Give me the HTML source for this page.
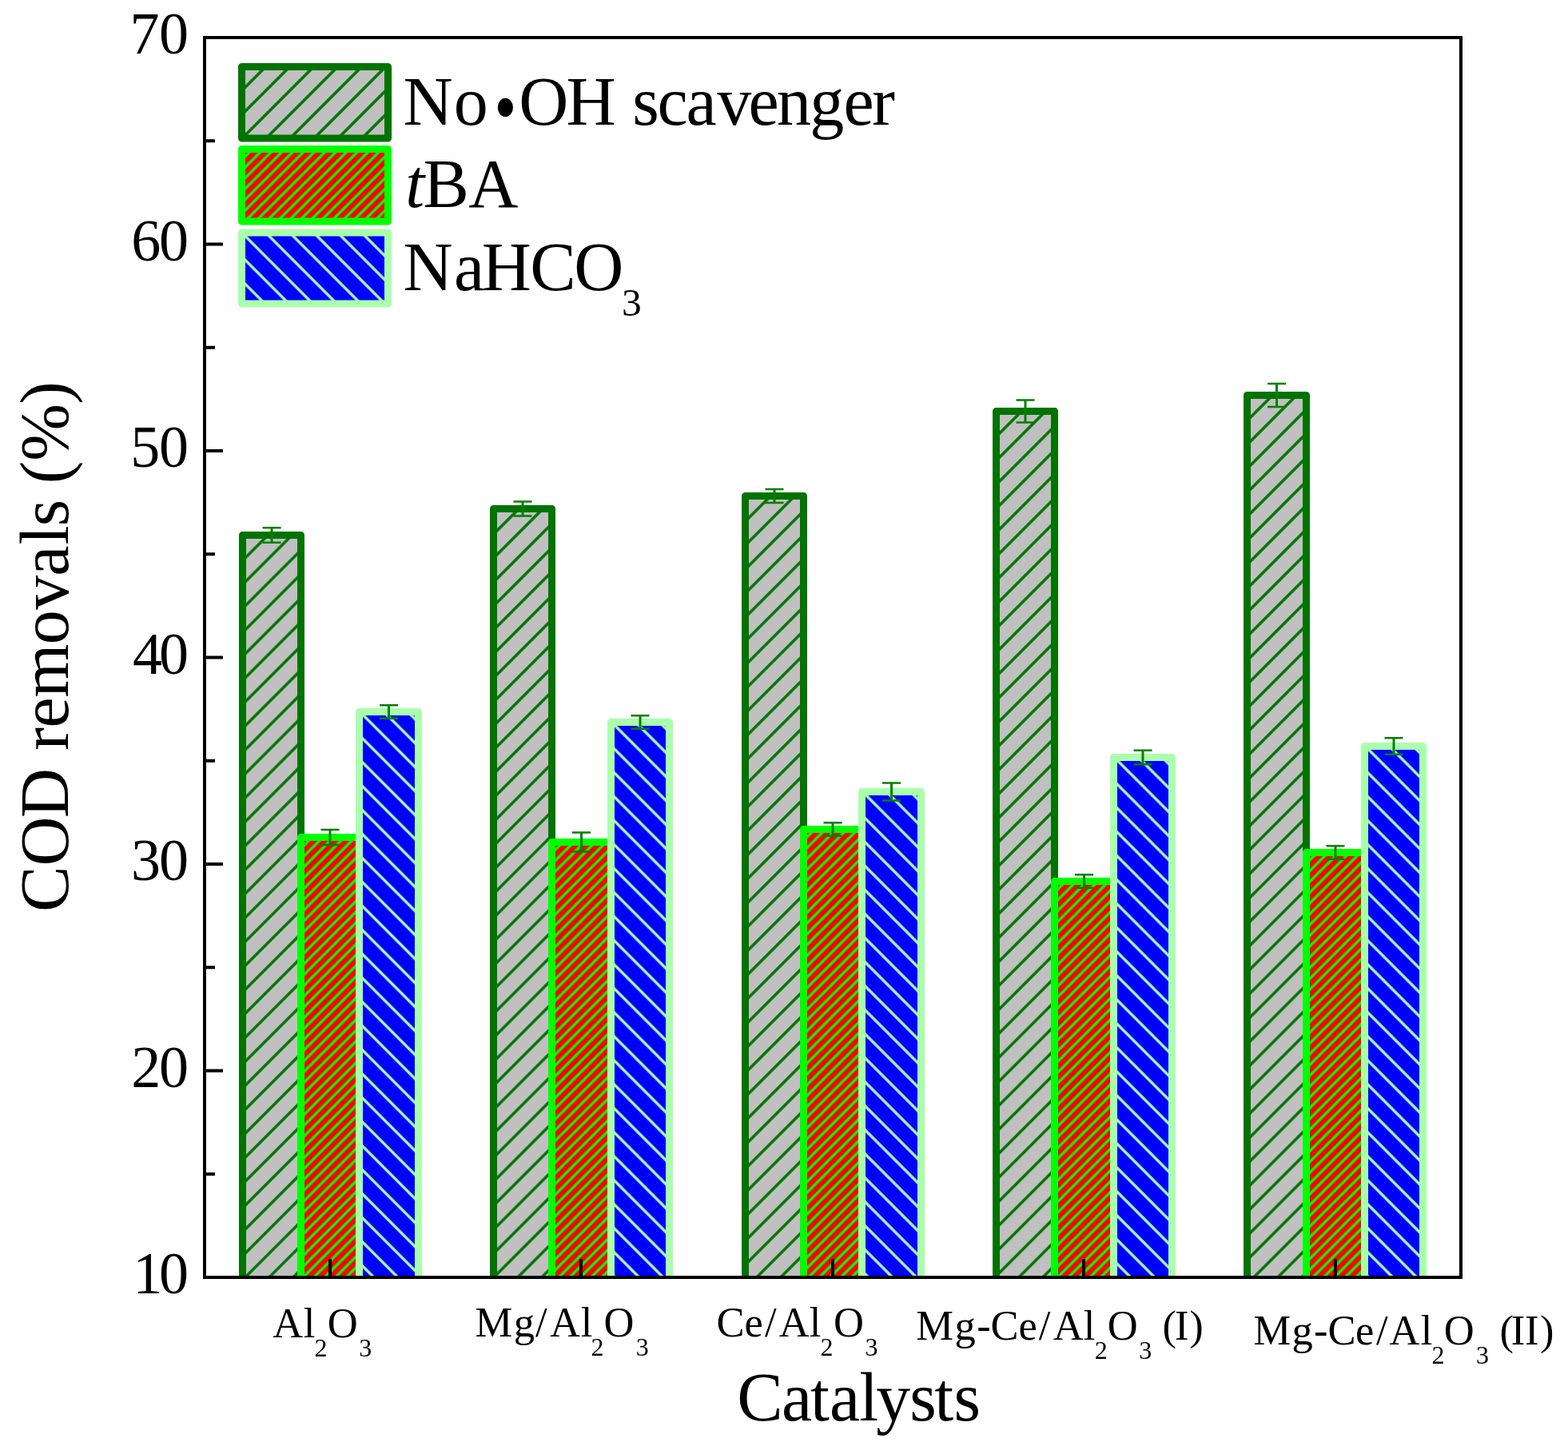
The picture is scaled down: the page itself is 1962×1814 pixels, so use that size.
<!DOCTYPE html><html><head><meta charset="utf-8"><title>COD removals</title><style>html,body{margin:0;padding:0;background:#fff;overflow:hidden;}svg{display:block;}text{font-family:"Liberation Serif","Times New Roman",serif;fill:#000;}</style></head><body>
<svg width="1962" height="1814" viewBox="0 0 1962 1814">
<defs><clipPath id="clip"><rect x="256" y="47" width="1572" height="1551"/></clipPath></defs>
<rect width="1962" height="1814" fill="#fff"/>
<defs><pattern id="p00" patternUnits="userSpaceOnUse" width="21.2132" height="21.2132" patternTransform="translate(305.30,669.50) rotate(45)"><rect width="21.2132" height="21.2132" fill="#C0C0C0"/><rect x="-1.750" width="3.5" height="21.2132" fill="#007300"/><rect x="19.4632" width="3.5" height="21.2132" fill="#007300"/></pattern><pattern id="p01" patternUnits="userSpaceOnUse" width="9.5318" height="9.5318" patternTransform="translate(377.00,1047.50) rotate(45)"><rect width="9.5318" height="9.5318" fill="#FF0000"/><rect x="-1.650" width="3.3" height="9.5318" fill="#00FF00"/><rect x="7.8818" width="3.3" height="9.5318" fill="#00FF00"/></pattern><pattern id="p02" patternUnits="userSpaceOnUse" width="21.2132" height="21.2132" patternTransform="translate(450.30,890.50) rotate(-45)"><rect width="21.2132" height="21.2132" fill="#0000FF"/><rect x="-1.675" width="3.35" height="21.2132" fill="#AAFFAA"/><rect x="19.5382" width="3.35" height="21.2132" fill="#AAFFAA"/></pattern><pattern id="p10" patternUnits="userSpaceOnUse" width="21.2132" height="21.2132" patternTransform="translate(619.30,636.50) rotate(45)"><rect width="21.2132" height="21.2132" fill="#C0C0C0"/><rect x="-1.750" width="3.5" height="21.2132" fill="#007300"/><rect x="19.4632" width="3.5" height="21.2132" fill="#007300"/></pattern><pattern id="p11" patternUnits="userSpaceOnUse" width="9.5318" height="9.5318" patternTransform="translate(691.00,1053.50) rotate(45)"><rect width="9.5318" height="9.5318" fill="#FF0000"/><rect x="-1.650" width="3.3" height="9.5318" fill="#00FF00"/><rect x="7.8818" width="3.3" height="9.5318" fill="#00FF00"/></pattern><pattern id="p12" patternUnits="userSpaceOnUse" width="21.2132" height="21.2132" patternTransform="translate(765.30,903.50) rotate(-45)"><rect width="21.2132" height="21.2132" fill="#0000FF"/><rect x="-1.675" width="3.35" height="21.2132" fill="#AAFFAA"/><rect x="19.5382" width="3.35" height="21.2132" fill="#AAFFAA"/></pattern><pattern id="p20" patternUnits="userSpaceOnUse" width="21.2132" height="21.2132" patternTransform="translate(934.30,620.50) rotate(45)"><rect width="21.2132" height="21.2132" fill="#C0C0C0"/><rect x="-1.750" width="3.5" height="21.2132" fill="#007300"/><rect x="19.4632" width="3.5" height="21.2132" fill="#007300"/></pattern><pattern id="p21" patternUnits="userSpaceOnUse" width="9.5318" height="9.5318" patternTransform="translate(1006.00,1037.50) rotate(45)"><rect width="9.5318" height="9.5318" fill="#FF0000"/><rect x="-1.650" width="3.3" height="9.5318" fill="#00FF00"/><rect x="7.8818" width="3.3" height="9.5318" fill="#00FF00"/></pattern><pattern id="p22" patternUnits="userSpaceOnUse" width="21.2132" height="21.2132" patternTransform="translate(1079.30,990.50) rotate(-45)"><rect width="21.2132" height="21.2132" fill="#0000FF"/><rect x="-1.675" width="3.35" height="21.2132" fill="#AAFFAA"/><rect x="19.5382" width="3.35" height="21.2132" fill="#AAFFAA"/></pattern><pattern id="p30" patternUnits="userSpaceOnUse" width="21.2132" height="21.2132" patternTransform="translate(1248.30,514.50) rotate(45)"><rect width="21.2132" height="21.2132" fill="#C0C0C0"/><rect x="-1.750" width="3.5" height="21.2132" fill="#007300"/><rect x="19.4632" width="3.5" height="21.2132" fill="#007300"/></pattern><pattern id="p31" patternUnits="userSpaceOnUse" width="9.5318" height="9.5318" patternTransform="translate(1320.00,1102.50) rotate(45)"><rect width="9.5318" height="9.5318" fill="#FF0000"/><rect x="-1.650" width="3.3" height="9.5318" fill="#00FF00"/><rect x="7.8818" width="3.3" height="9.5318" fill="#00FF00"/></pattern><pattern id="p32" patternUnits="userSpaceOnUse" width="21.2132" height="21.2132" patternTransform="translate(1394.30,947.50) rotate(-45)"><rect width="21.2132" height="21.2132" fill="#0000FF"/><rect x="-1.675" width="3.35" height="21.2132" fill="#AAFFAA"/><rect x="19.5382" width="3.35" height="21.2132" fill="#AAFFAA"/></pattern><pattern id="p40" patternUnits="userSpaceOnUse" width="21.2132" height="21.2132" patternTransform="translate(1562.30,494.50) rotate(45)"><rect width="21.2132" height="21.2132" fill="#C0C0C0"/><rect x="-1.750" width="3.5" height="21.2132" fill="#007300"/><rect x="19.4632" width="3.5" height="21.2132" fill="#007300"/></pattern><pattern id="p41" patternUnits="userSpaceOnUse" width="9.5318" height="9.5318" patternTransform="translate(1635.00,1066.50) rotate(45)"><rect width="9.5318" height="9.5318" fill="#FF0000"/><rect x="-1.650" width="3.3" height="9.5318" fill="#00FF00"/><rect x="7.8818" width="3.3" height="9.5318" fill="#00FF00"/></pattern><pattern id="p42" patternUnits="userSpaceOnUse" width="21.2132" height="21.2132" patternTransform="translate(1708.30,933.50) rotate(-45)"><rect width="21.2132" height="21.2132" fill="#0000FF"/><rect x="-1.675" width="3.35" height="21.2132" fill="#AAFFAA"/><rect x="19.5382" width="3.35" height="21.2132" fill="#AAFFAA"/></pattern><pattern id="pl0" patternUnits="userSpaceOnUse" width="21.2132" height="21.2132" patternTransform="translate(302.50,83.50) rotate(45)"><rect width="21.2132" height="21.2132" fill="#C0C0C0"/><rect x="-1.750" width="3.5" height="21.2132" fill="#007300"/><rect x="19.4632" width="3.5" height="21.2132" fill="#007300"/></pattern><pattern id="pl1" patternUnits="userSpaceOnUse" width="9.5318" height="9.5318" patternTransform="translate(302.50,186.50) rotate(45)"><rect width="9.5318" height="9.5318" fill="#FF0000"/><rect x="-1.650" width="3.3" height="9.5318" fill="#00FF00"/><rect x="7.8818" width="3.3" height="9.5318" fill="#00FF00"/></pattern><pattern id="pl2" patternUnits="userSpaceOnUse" width="21.2132" height="21.2132" patternTransform="translate(302.50,291.00) rotate(-45)"><rect width="21.2132" height="21.2132" fill="#0000FF"/><rect x="-1.675" width="3.35" height="21.2132" fill="#AAFFAA"/><rect x="19.5382" width="3.35" height="21.2132" fill="#AAFFAA"/></pattern></defs>
<g clip-path="url(#clip)" stroke-width="9" stroke-linejoin="round">
<rect x="303.5" y="669.5" width="73.0" height="948.5" fill="url(#p00)" stroke="#007300"/>
<rect x="376.5" y="1047.5" width="73.0" height="570.5" fill="url(#p01)" stroke="#00FF00"/>
<rect x="449.5" y="890.5" width="74.0" height="727.5" fill="url(#p02)" stroke="#AAFFAA"/>
<rect x="617.5" y="636.5" width="73.0" height="981.5" fill="url(#p10)" stroke="#007300"/>
<rect x="690.5" y="1053.5" width="74.0" height="564.5" fill="url(#p11)" stroke="#00FF00"/>
<rect x="764.5" y="903.5" width="73.0" height="714.5" fill="url(#p12)" stroke="#AAFFAA"/>
<rect x="932.5" y="620.5" width="73.0" height="997.5" fill="url(#p20)" stroke="#007300"/>
<rect x="1005.5" y="1037.5" width="73.0" height="580.5" fill="url(#p21)" stroke="#00FF00"/>
<rect x="1078.5" y="990.5" width="74.0" height="627.5" fill="url(#p22)" stroke="#AAFFAA"/>
<rect x="1246.5" y="514.5" width="73.0" height="1103.5" fill="url(#p30)" stroke="#007300"/>
<rect x="1319.5" y="1102.5" width="74.0" height="515.5" fill="url(#p31)" stroke="#00FF00"/>
<rect x="1393.5" y="947.5" width="73.0" height="670.5" fill="url(#p32)" stroke="#AAFFAA"/>
<rect x="1560.5" y="494.5" width="74.0" height="1123.5" fill="url(#p40)" stroke="#007300"/>
<rect x="1634.5" y="1066.5" width="73.0" height="551.5" fill="url(#p41)" stroke="#00FF00"/>
<rect x="1707.5" y="933.5" width="73.0" height="684.5" fill="url(#p42)" stroke="#AAFFAA"/>
</g>
<g stroke="#008000" fill="none">
<path stroke-width="3" d="M340.00,660.20V678.80"/><path stroke-width="2.5" d="M328.50,660.20H351.50M328.50,678.80H351.50"/>
<path stroke-width="3" d="M413.00,1038.10V1056.90"/><path stroke-width="2.5" d="M401.50,1038.10H424.50M401.50,1056.90H424.50"/>
<path stroke-width="3" d="M486.50,882.25V898.75"/><path stroke-width="2.5" d="M475.00,882.25H498.00M475.00,898.75H498.00"/>
<path stroke-width="3" d="M654.00,627.50V645.50"/><path stroke-width="2.5" d="M642.50,627.50H665.50M642.50,645.50H665.50"/>
<path stroke-width="3" d="M727.50,1041.50V1065.50"/><path stroke-width="2.5" d="M716.00,1041.50H739.00M716.00,1065.50H739.00"/>
<path stroke-width="3" d="M801.00,895.15V911.85"/><path stroke-width="2.5" d="M789.50,895.15H812.50M789.50,911.85H812.50"/>
<path stroke-width="3" d="M969.00,612.10V628.90"/><path stroke-width="2.5" d="M957.50,612.10H980.50M957.50,628.90H980.50"/>
<path stroke-width="3" d="M1042.00,1029.30V1045.70"/><path stroke-width="2.5" d="M1030.50,1029.30H1053.50M1030.50,1045.70H1053.50"/>
<path stroke-width="3" d="M1115.50,979.50V1001.50"/><path stroke-width="2.5" d="M1104.00,979.50H1127.00M1104.00,1001.50H1127.00"/>
<path stroke-width="3" d="M1283.00,500.50V528.50"/><path stroke-width="2.5" d="M1271.50,500.50H1294.50M1271.50,528.50H1294.50"/>
<path stroke-width="3" d="M1356.50,1094.25V1110.75"/><path stroke-width="2.5" d="M1345.00,1094.25H1368.00M1345.00,1110.75H1368.00"/>
<path stroke-width="3" d="M1430.00,938.75V956.25"/><path stroke-width="2.5" d="M1418.50,938.75H1441.50M1418.50,956.25H1441.50"/>
<path stroke-width="3" d="M1597.50,480.00V509.00"/><path stroke-width="2.5" d="M1586.00,480.00H1609.00M1586.00,509.00H1609.00"/>
<path stroke-width="3" d="M1671.00,1058.25V1074.75"/><path stroke-width="2.5" d="M1659.50,1058.25H1682.50M1659.50,1074.75H1682.50"/>
<path stroke-width="3" d="M1744.00,923.20V943.80"/><path stroke-width="2.5" d="M1732.50,923.20H1755.50M1732.50,943.80H1755.50"/>
</g>
<g stroke="#000" stroke-width="4" fill="none">
<rect x="256" y="47" width="1572" height="1551"/>
<path d="M256,176.25H269M256,305.50H279M256,434.75H269M256,564.00H279M256,693.25H269M256,822.50H279M256,951.75H269M256,1081.00H279M256,1210.25H269M256,1339.50H279M256,1468.75H269M413,1598V1575M727,1598V1575M1042,1598V1575M1356,1598V1575M1671,1598V1575"/>
</g>
<text x="162.6 199.0" y="67.0" font-size="74">70</text>
<text x="164.3 199.0" y="325.5" font-size="74">60</text>
<text x="163.2 199.0" y="584.0" font-size="74">50</text>
<text x="166.1 199.0" y="842.5" font-size="74">40</text>
<text x="164.0 199.0" y="1101.0" font-size="74">30</text>
<text x="164.2 199.0" y="1359.5" font-size="74">20</text>
<text x="166.2 199.0" y="1618.0" font-size="74">10</text>
<text font-size="52.5"><tspan x="341.3 379.7" y="1672.7">Al</tspan><tspan x="393.6" y="1697.0" font-size="32">2</tspan><tspan x="409.8" y="1672.7">O</tspan><tspan x="449.3" y="1697.0" font-size="32">3</tspan></text>
<text font-size="52.5"><tspan x="594.5 642.7 670.0 687.9 726.8" y="1671.5">Mg/Al</tspan><tspan x="739.6" y="1695.5" font-size="32">2</tspan><tspan x="755.5" y="1671.5">O</tspan><tspan x="795.7" y="1695.5" font-size="32">3</tspan></text>
<text font-size="52.5"><tspan x="896.6 931.6 957.0 974.7 1012.8" y="1671.9">Ce/Al</tspan><tspan x="1026.5" y="1696.0" font-size="32">2</tspan><tspan x="1043.1" y="1671.9">O</tspan><tspan x="1082.5" y="1696.0" font-size="32">3</tspan></text>
<text font-size="52.5"><tspan x="1146.2 1194.6 1222.2 1239.5 1274.6 1299.8 1317.7 1355.8" y="1675.6">Mg-Ce/Al</tspan><tspan x="1369.8" y="1700.2" font-size="32">2</tspan><tspan x="1385.8" y="1675.6">O</tspan><tspan x="1425.2" y="1700.2" font-size="32">3</tspan><tspan x="1441.4 1454.5 1470.0 1488.2" y="1675.6"> (I)</tspan></text>
<text font-size="52.5"><tspan x="1568.4 1616.6 1644.1 1661.6 1695.9 1721.9 1738.5 1777.7" y="1682.0">Mg-Ce/Al</tspan><tspan x="1791.6" y="1705.9" font-size="32">2</tspan><tspan x="1806.8" y="1682.0">O</tspan><tspan x="1847.1" y="1705.9" font-size="32">3</tspan><tspan x="1863.5 1876.6 1890.7 1908.1 1927.0" y="1682.0"> (II)</tspan></text>
<text x="922.3 977.9 1014.1 1038.0 1075.3 1096.2 1138.3 1169.2 1193.4" y="1777" font-size="86">Catalysts</text>
<text transform="translate(85,0) rotate(-90)" x="-1140.7 -1083.6 -1023.2 -961.1 -938.7 -910.5 -872.6 -806.2 -762.8 -720.7 -681.6 -658.3 -624.9 -605.3 -576.8 -505.8" y="0" font-size="86">COD removals (%)</text>
<rect x="302.5" y="83.5" width="183" height="89.5" fill="url(#pl0)" stroke="#007300" stroke-width="9" stroke-linejoin="round"/>
<rect x="302.5" y="186.5" width="183" height="90.5" fill="url(#pl1)" stroke="#00FF00" stroke-width="9" stroke-linejoin="round"/>
<rect x="302.5" y="291.0" width="183" height="89.0" fill="url(#pl2)" stroke="#AAFFAA" stroke-width="9" stroke-linejoin="round"/>
<text font-size="86" y="156"><tspan x="504.4 567.7">No</tspan><tspan x="649.3 708.4 770.5 791.3 822.5 858.6 897.2 936.5 972.0 1013.3 1055.4 1091.3">OH scavenger</tspan></text>
<text font-size="86" transform="translate(618.17,167.25) scale(0.939,1.122)">•</text>
<text font-size="86" y="258.9"><tspan x="507.2" font-style="italic">t</tspan><tspan x="529.5 586.3">BA</tspan></text>
<text font-size="86" y="362.7"><tspan x="504.4 568.0 602.7 663.2 718.3">NaHCO</tspan><tspan x="778.1" y="394.6" font-size="49.5">3</tspan></text>
</svg></body></html>
